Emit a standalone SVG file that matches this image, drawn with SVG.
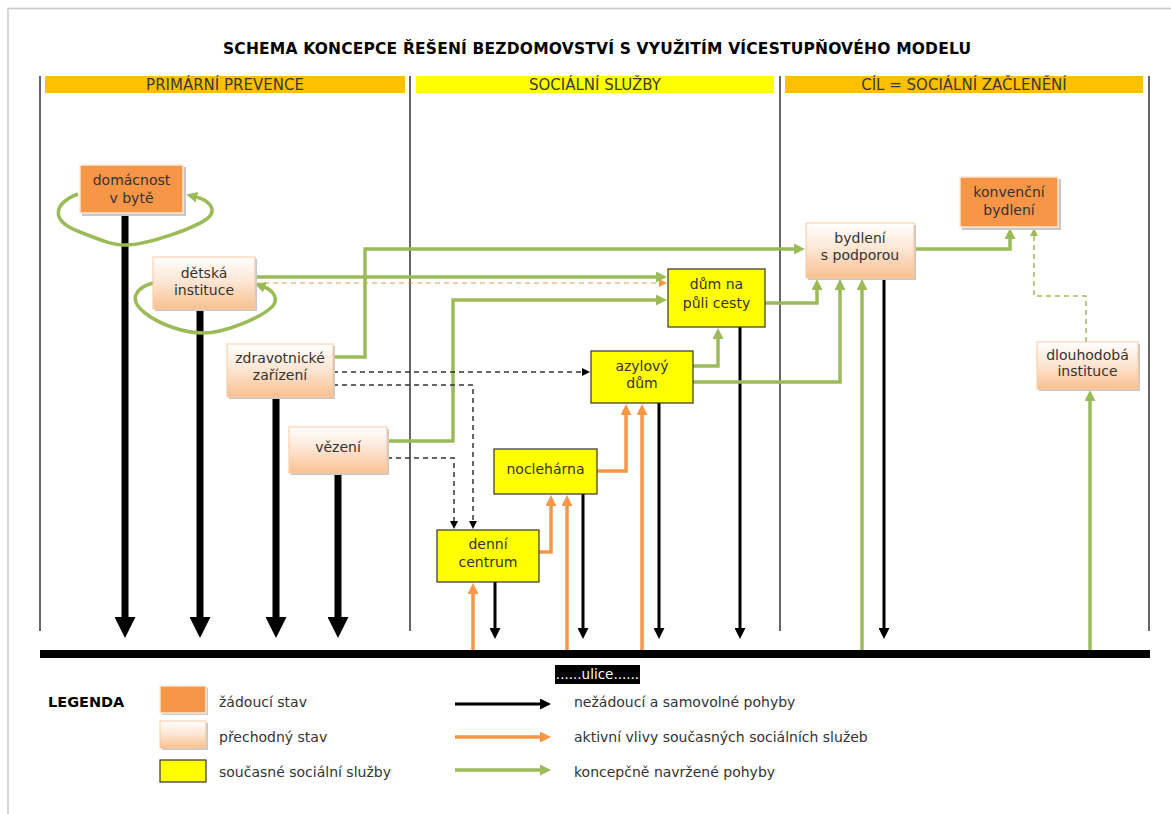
<svg xmlns="http://www.w3.org/2000/svg" width="1171" height="814" viewBox="0 0 1171 814">
<style>
text{font-family:"DejaVu Sans","Liberation Sans",sans-serif;fill:#333}
.nt{font-size:14px;text-anchor:middle}
.hd{font-size:15px;text-anchor:middle;fill:#3a3a3a}
.lg{font-size:14px}
.sec{stroke:#000;stroke-width:1.2;fill:none}
.bk{stroke:#000;stroke-width:7;fill:none}
.bs{stroke:#000;stroke-width:3;fill:none}
.or{stroke:#F79646;stroke-width:3.5;fill:none}
.gr{stroke:#9BBB59;stroke-width:3.5;fill:none}
.dk{stroke:#333;stroke-width:1.5;fill:none;stroke-dasharray:5 4}
.dor{stroke:#F79646;stroke-width:1.2;fill:none;stroke-dasharray:5 4}
.dgr{stroke:#9BBB59;stroke-width:1.5;fill:none;stroke-dasharray:5 4}
.want{fill:#F79646;stroke:#fde9d9;stroke-width:1.5}
.trans{fill:url(#pg);stroke:#fac9a0;stroke-width:1}
.cur{fill:#FFFF00;stroke:#333;stroke-width:1.2}
.sh{fill:#c8c8c8}
</style>
<defs>
<linearGradient id="pg" x1="0" y1="0" x2="0" y2="1">
<stop offset="0" stop-color="#ffffff"/>
<stop offset="0.5" stop-color="#fde4d0"/>
<stop offset="1" stop-color="#fac090"/>
</linearGradient>
<marker id="ab" markerUnits="userSpaceOnUse" markerWidth="21" markerHeight="21" viewBox="0 0 21 21" refX="1" refY="10.5" orient="auto"><path d="M0,0L21,10.5L0,21z" fill="#000"/></marker>
<marker id="as" markerUnits="userSpaceOnUse" markerWidth="11" markerHeight="11" viewBox="0 0 11 11" refX="1" refY="5.5" orient="auto"><path d="M0,0L11,5.5L0,11z" fill="#000"/></marker>
<marker id="ao" markerUnits="userSpaceOnUse" markerWidth="11" markerHeight="11" viewBox="0 0 11 11" refX="1" refY="5.5" orient="auto"><path d="M0,0L11,5.5L0,11z" fill="#F79646"/></marker>
<marker id="ag" markerUnits="userSpaceOnUse" markerWidth="11" markerHeight="11" viewBox="0 0 11 11" refX="1" refY="5.5" orient="auto"><path d="M0,0L11,5.5L0,11z" fill="#9BBB59"/></marker>
<marker id="ad" markerUnits="userSpaceOnUse" markerWidth="8" markerHeight="8" viewBox="0 0 8 8" refX="1" refY="4" orient="auto"><path d="M0,0L8,4L0,8z" fill="#000"/></marker>
<marker id="aod" markerUnits="userSpaceOnUse" markerWidth="8" markerHeight="8" viewBox="0 0 8 8" refX="1" refY="4" orient="auto"><path d="M0,0L8,4L0,8z" fill="#F79646"/></marker>
<marker id="agd" markerUnits="userSpaceOnUse" markerWidth="8" markerHeight="8" viewBox="0 0 8 8" refX="1" refY="4" orient="auto"><path d="M0,0L8,4L0,8z" fill="#9BBB59"/></marker>
</defs>
<rect width="1171" height="814" fill="#fff"/>
<path d="M8,814V8.5H1171" stroke="#c8c8c8" stroke-width="1.5" fill="none"/>
<text x="597" y="54" style="font-family:'DejaVu Sans','Liberation Sans',sans-serif;font-weight:bold;font-size:15.5px;text-anchor:middle;fill:#000" textLength="748">SCHEMA KONCEPCE ŘEŠENÍ BEZDOMOVSTVÍ S VYUŽITÍM VÍCESTUPŇOVÉHO MODELU</text>

<g id="headers">
<rect x="45" y="76" width="360" height="17" fill="#FFC000"/>
<text class="hd" x="225" y="90">PRIMÁRNÍ PREVENCE</text>
<rect x="416" y="76" width="358" height="17" fill="#FFFF00"/>
<text class="hd" x="595" y="90">SOCIÁLNÍ SLUŽBY</text>
<rect x="785" y="76" width="358" height="17" fill="#FFC000"/>
<text class="hd" x="964" y="90">CÍL = SOCIÁLNÍ ZAČLENĚNÍ</text>
</g>
<g id="sections">
<path class="sec" d="M40,76V631M410,76V631M780,76V631M1149,76V631"/>
<rect x="40" y="650" width="1110" height="8" fill="#000"/>
<rect x="555" y="665" width="85" height="19" fill="#000"/>
<text x="597.5" y="679" style="font-size:13.5px;text-anchor:middle;fill:#fff">......ulice......</text>
</g>

<g id="connectors">
<path class="bk" d="M125,215V618" marker-end="url(#ab)"/>
<path class="bk" d="M200,309V618" marker-end="url(#ab)"/>
<path class="bk" d="M276,397V618" marker-end="url(#ab)"/>
<path class="bk" d="M338,473V618" marker-end="url(#ab)"/>
<path class="bs" d="M495,582V629" marker-end="url(#as)"/>
<path class="bs" d="M583,494V629" marker-end="url(#as)"/>
<path class="bs" d="M659,403V629" marker-end="url(#as)"/>
<path class="bs" d="M740,327V629" marker-end="url(#as)"/>
<path class="bs" d="M884,278V629" marker-end="url(#as)"/>
<path class="or" d="M473,650V593" marker-end="url(#ao)"/>
<path class="or" d="M539,552H551V505" marker-end="url(#ao)"/>
<path class="or" d="M567,650V505" marker-end="url(#ao)"/>
<path class="or" d="M597,471H626V414" marker-end="url(#ao)"/>
<path class="or" d="M642,650V414" marker-end="url(#ao)"/>
<path class="dor" d="M255,283H660" marker-end="url(#aod)"/>
<path class="gr" d="M78,194C55,203 48,220 80,232C100,240 115,246 127,245C150,244 195,228 208,218C218,209 208,200 196,197" marker-end="url(#ag)"/>
<path class="gr" d="M153,283C135,288 128,300 145,313C160,325 185,333 203,333C225,333 260,318 272,307C280,298 272,290 264,287" marker-end="url(#ag)"/>
<path class="gr" d="M255,277H657" marker-end="url(#ag)"/>
<path class="gr" d="M333,357H365V249H795" marker-end="url(#ag)"/>
<path class="gr" d="M387,441H453V300H657" marker-end="url(#ag)"/>
<path class="gr" d="M765,303H817V289" marker-end="url(#ag)"/>
<path class="gr" d="M693,366H718V338" marker-end="url(#ag)"/>
<path class="gr" d="M693,382H840V289" marker-end="url(#ag)"/>
<path class="gr" d="M862,650V289" marker-end="url(#ag)"/>
<path class="gr" d="M914,249H1010V238" marker-end="url(#ag)"/>
<path class="gr" d="M1090,650V400" marker-end="url(#ag)"/>
<path class="dgr" d="M1086,342V296H1034V235" marker-end="url(#agd)"/>
<path class="dk" d="M333,372H583" marker-end="url(#ad)"/>
<path class="dk" d="M333,385H473V522" marker-end="url(#ad)"/>
<path class="dk" d="M387,458H454V522" marker-end="url(#ad)"/>
</g>

<g id="n-domacnost">
<rect class="sh" x="82" y="167" width="104" height="49"/>
<rect class="want" x="80" y="165" width="103" height="48"/>
<text class="nt" x="131.5" y="185">domácnost</text>
<text class="nt" x="131.5" y="203">v bytě</text>
</g>
<g id="n-detska">
<rect class="sh" x="155" y="259" width="102" height="52"/>
<rect class="trans" x="153" y="257" width="102" height="52"/>
<text class="nt" x="204" y="278">dětská</text>
<text class="nt" x="204" y="295">instituce</text>
</g>
<g id="n-zdravotnicke">
<rect class="sh" x="229" y="346" width="106" height="53"/>
<rect class="trans" x="227" y="344" width="106" height="53"/>
<text class="nt" x="280" y="363">zdravotnické</text>
<text class="nt" x="280" y="380">zařízení</text>
</g>
<g id="n-vezeni">
<rect class="sh" x="291" y="429" width="98" height="46"/>
<rect class="trans" x="289" y="427" width="98" height="46"/>
<text class="nt" x="338" y="452">vězení</text>
</g>
<g id="n-dum-na-puli-cesty">
<rect class="cur" x="668" y="269" width="97" height="58"/>
<text class="nt" x="716.5" y="289">dům na</text>
<text class="nt" x="716.5" y="308">půli cesty</text>
</g>
<g id="n-azylovy">
<rect class="cur" x="591" y="351" width="102" height="52"/>
<text class="nt" x="642" y="371">azylový</text>
<text class="nt" x="642" y="388">dům</text>
</g>
<g id="n-nocleharna">
<rect class="cur" x="494" y="449" width="103" height="45"/>
<text class="nt" x="545.5" y="474">noclehárna</text>
</g>
<g id="n-denni-centrum">
<rect class="cur" x="437" y="530" width="102" height="52"/>
<text class="nt" x="488" y="549">denní</text>
<text class="nt" x="488" y="567">centrum</text>
</g>
<g id="n-bydleni-s-podporou">
<rect class="sh" x="808" y="225" width="108" height="55"/>
<rect class="trans" x="806" y="223" width="108" height="55"/>
<text class="nt" x="860" y="243">bydlení</text>
<text class="nt" x="860" y="260">s podporou</text>
</g>
<g id="n-konvencni-bydleni">
<rect class="sh" x="962" y="179" width="99" height="51"/>
<rect class="want" x="960" y="177" width="98" height="50"/>
<text class="nt" x="1009" y="197">konvenční</text>
<text class="nt" x="1009" y="215">bydlení</text>
</g>
<g id="n-dlouhodoba-instituce">
<rect class="sh" x="1039" y="344" width="101" height="47"/>
<rect class="trans" x="1037" y="342" width="101" height="47"/>
<text class="nt" x="1087.5" y="360">dlouhodobá</text>
<text class="nt" x="1087.5" y="376">instituce</text>
</g>

<g id="legend">
<text x="48" y="707" style="font-size:14.5px;font-weight:bold;fill:#000">LEGENDA</text>
<rect class="sh" x="162" y="688" width="46" height="27"/>
<rect class="want" x="160" y="686" width="46" height="27"/>
<text class="lg" x="219" y="707">žádoucí stav</text>
<rect class="sh" x="162" y="723" width="46" height="27"/>
<rect class="trans" x="160" y="721" width="46" height="27"/>
<text class="lg" x="219" y="742">přechodný stav</text>
<rect class="cur" x="160" y="760" width="46" height="22"/>
<text class="lg" x="219" y="777">současné sociální služby</text>
<path class="bs" d="M455,704H541" marker-end="url(#as)"/>
<path class="or" d="M455,737H541" marker-end="url(#ao)"/>
<path class="gr" d="M455,770H541" marker-end="url(#ag)"/>
<text class="lg" x="574" y="707">nežádoucí a samovolné pohyby</text>
<text class="lg" x="574" y="742">aktivní vlivy současných sociálních služeb</text>
<text class="lg" x="574" y="777">koncepčně navržené pohyby</text>
</g>
</svg>
